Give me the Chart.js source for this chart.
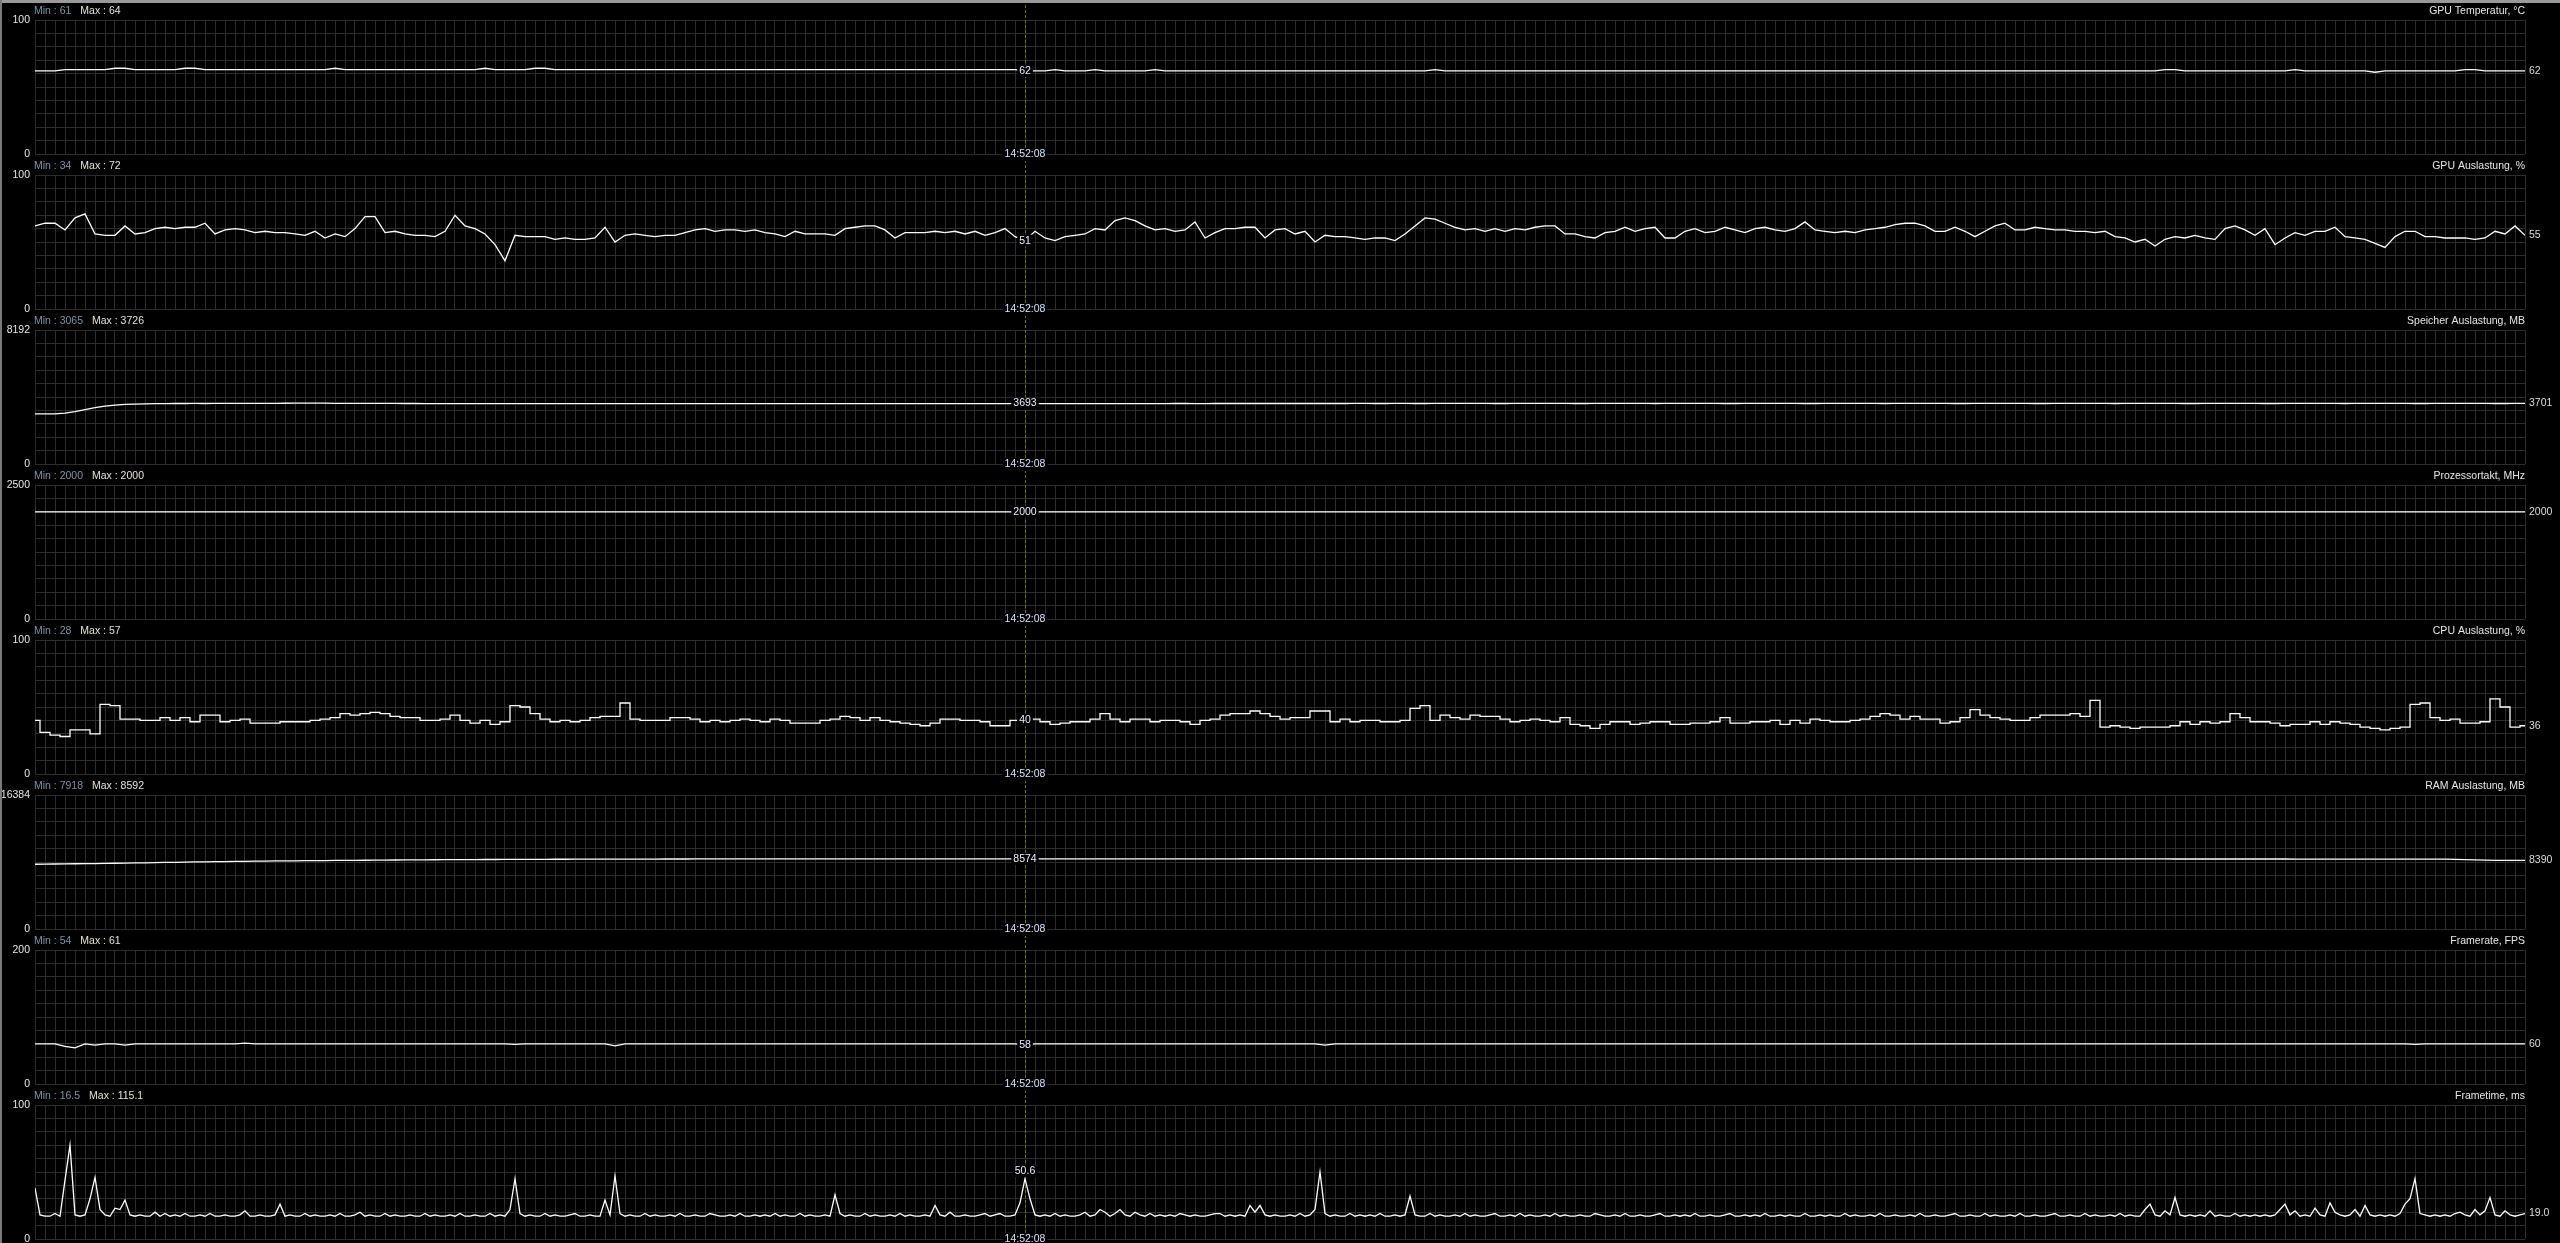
<!DOCTYPE html>
<html><head><meta charset="utf-8">
<script src="https://cdn.jsdelivr.net/npm/chart.js@4.4.1/dist/chart.umd.min.js"></script>
<style>
html,body{margin:0;padding:0;background:#000;width:2560px;height:1243px;overflow:hidden;}
#wrap{position:relative;width:2560px;height:1243px;background:#000;overflow:hidden;}
.pc{position:absolute;left:0;}
#bt{position:absolute;left:0;top:0;width:2560px;height:3px;background:#9a9a9a;z-index:20;}
#bl{position:absolute;left:0;top:0;width:2px;height:1243px;background:#7a7a7a;z-index:20;}
</style></head><body>
<div id="wrap"><div id="bt"></div><div id="bl"></div></div>
<script>
// ---------------- data ----------------
const panelTitles = ["GPU Temperatur, °C","GPU Auslastung, %","Speicher Auslastung, MB","Prozessortakt, MHz","CPU Auslastung, %","RAM Auslastung, MB","Framerate, FPS","Frametime, ms"];
const axisMax = [100,100,8192,2500,100,16384,200,100];
const minLabels = ["61","34","3065","2000","28","7918","54","16.5"];
const maxLabels = ["64","72","3726","2000","57","8592","61","115.1"];
const cursorLabels = ["62","51","3693","2000","40","8574","58","50.6"];
const lastLabels = ["62","55","3701","2000","36","8390","60","19.0"];
const cursorTime = "14:52:08";
const gridColumns = 249;     // grid cells across the plot
const cursorColumn = 99;     // cursor position, in grid cells

const gpuTemp = [
62,62,62,63,63,63,63,63,64,64,63,63,63,63,63,64,64,63,63,63,63,63,63,63,63,
63,63,63,63,63,64,63,63,63,63,63,63,63,63,63,63,63,63,63,63,64,63,63,63,63,
64,64,63,63,63,63,63,63,63,63,63,63,63,63,63,63,63,63,63,63,63,63,63,63,63,
63,63,63,63,63,63,63,63,63,63,63,63,63,63,63,63,63,63,63,63,63,63,63,63,62,
62,62,63,62,62,62,63,62,62,62,62,62,63,62,62,62,62,62,62,62,62,62,62,62,62,
62,62,62,62,62,62,62,62,62,62,62,62,62,62,62,63,62,62,62,62,62,62,62,62,62,
62,62,62,62,62,62,62,62,62,62,62,62,62,62,62,62,62,62,62,62,62,62,62,62,62,
62,62,62,62,62,62,62,62,62,62,62,62,62,62,62,62,62,62,62,62,62,62,62,62,62,
62,62,62,62,62,62,62,62,62,62,62,62,62,63,63,62,62,62,62,62,62,62,62,62,62,
62,63,62,62,62,62,62,62,62,61,62,62,62,62,62,62,62,62,63,63,62,62,62,62,62];

const gpuLoad = [
62,64,64,59,68,71,56,55,55,62,56,57,60,61,60,61,61,64,56,59,60,59,57,58,57,
57,56,55,58,53,56,54,60,69,69,57,58,56,55,55,54,58,70,62,60,56,48,36,55,54,
54,54,52,53,52,52,53,61,50,55,56,55,54,55,55,57,59,60,58,59,59,58,59,57,56,
54,58,56,56,56,55,60,61,62,62,59,53,57,57,57,58,57,58,56,58,55,57,60,54,51,
58,53,51,54,55,56,60,59,66,68,66,62,59,60,58,59,65,53,57,60,60,61,61,53,59,
60,56,58,50,55,54,54,53,52,53,53,51,56,62,68,67,64,61,59,60,58,60,58,60,59,
61,62,62,56,56,54,53,57,58,61,58,60,61,53,53,58,60,57,58,61,59,57,60,61,59,
58,60,65,59,58,57,58,57,59,60,61,63,64,64,62,58,58,61,58,54,58,62,64,59,59,
61,60,59,59,58,58,57,58,54,53,50,52,47,52,54,53,55,53,52,60,62,59,55,60,48,
53,57,55,58,58,61,54,53,52,49,46,54,58,58,54,54,53,53,53,52,53,58,56,62,55];

const vramUsage = [
3065,3065,3070,3110,3200,3330,3450,3540,3600,3640,3665,3680,3690,3695,3698,3700,3702,3700,3703,3705,3704,3706,3708,3710,3712,
3715,3718,3726,3720,3716,3712,3710,3708,3706,3705,3703,3702,3700,3698,3697,3696,3695,3695,3694,3694,3693,3693,3692,3692,3692,
3692,3693,3693,3694,3694,3693,3693,3692,3692,3693,3694,3694,3693,3693,3692,3692,3693,3693,3694,3694,3693,3693,3692,3693,3693,
3694,3694,3693,3693,3692,3692,3693,3694,3694,3693,3693,3692,3693,3693,3694,3694,3693,3693,3692,3692,3693,3693,3694,3693,3693,
3694,3695,3695,3696,3696,3695,3695,3696,3697,3697,3696,3696,3697,3697,3698,3698,3697,3697,3698,3698,3699,3699,3698,3698,3699,
3699,3700,3700,3699,3699,3700,3700,3701,3701,3700,3700,3701,3701,3700,3700,3701,3701,3702,3702,3701,3701,3700,3700,3701,3701,
3702,3702,3701,3701,3700,3700,3701,3701,3702,3702,3701,3701,3700,3701,3701,3702,3702,3701,3701,3700,3700,3701,3701,3702,3702,
3701,3701,3700,3700,3701,3701,3702,3702,3701,3701,3700,3701,3701,3702,3702,3701,3701,3700,3700,3701,3701,3702,3702,3701,3701,
3700,3700,3701,3701,3702,3702,3701,3701,3700,3701,3701,3702,3702,3701,3701,3700,3700,3701,3701,3702,3702,3701,3701,3700,3700,
3701,3701,3702,3702,3701,3701,3700,3701,3701,3702,3702,3701,3701,3700,3700,3701,3701,3702,3702,3701,3701,3700,3700,3701,3701];

const cpuClock = [
2000,2000,2000,2000,2000,2000,2000,2000,2000,2000,2000,2000,2000,2000,2000,2000,2000,2000,2000,2000,2000,2000,2000,2000,2000,
2000,2000,2000,2000,2000,2000,2000,2000,2000,2000,2000,2000,2000,2000,2000,2000,2000,2000,2000,2000,2000,2000,2000,2000,2000,
2000,2000,2000,2000,2000,2000,2000,2000,2000,2000,2000,2000,2000,2000,2000,2000,2000,2000,2000,2000,2000,2000,2000,2000,2000,
2000,2000,2000,2000,2000,2000,2000,2000,2000,2000,2000,2000,2000,2000,2000,2000,2000,2000,2000,2000,2000,2000,2000,2000,2000,
2000,2000,2000,2000,2000,2000,2000,2000,2000,2000,2000,2000,2000,2000,2000,2000,2000,2000,2000,2000,2000,2000,2000,2000,2000,
2000,2000,2000,2000,2000,2000,2000,2000,2000,2000,2000,2000,2000,2000,2000,2000,2000,2000,2000,2000,2000,2000,2000,2000,2000,
2000,2000,2000,2000,2000,2000,2000,2000,2000,2000,2000,2000,2000,2000,2000,2000,2000,2000,2000,2000,2000,2000,2000,2000,2000,
2000,2000,2000,2000,2000,2000,2000,2000,2000,2000,2000,2000,2000,2000,2000,2000,2000,2000,2000,2000,2000,2000,2000,2000,2000,
2000,2000,2000,2000,2000,2000,2000,2000,2000,2000,2000,2000,2000,2000,2000,2000,2000,2000,2000,2000,2000,2000,2000,2000,2000,
2000,2000,2000,2000,2000,2000,2000,2000,2000,2000,2000,2000,2000,2000,2000,2000,2000,2000,2000,2000,2000,2000,2000,2000,2000];

const cpuLoad = [
40,31,29,28,33,33,30,52,51,41,41,40,40,42,40,42,39,44,44,39,40,41,38,38,38,
39,39,39,40,41,42,45,44,45,46,45,43,42,42,40,40,41,44,40,38,40,37,39,51,50,
45,41,39,40,39,40,42,43,43,53,41,40,40,40,42,42,41,39,40,39,40,41,40,39,41,
40,38,38,38,40,41,43,42,40,42,40,39,38,37,36,38,41,41,40,40,39,36,36,40,40,
41,39,37,38,39,39,41,45,41,39,41,41,39,40,40,39,37,40,41,44,45,45,47,45,43,
41,42,42,47,47,39,41,39,40,40,39,39,40,49,51,40,44,42,41,44,43,43,41,39,40,
41,40,39,42,37,36,34,37,39,39,37,38,39,39,37,37,38,38,39,42,38,38,39,39,40,
37,40,38,41,40,39,39,40,41,43,45,44,41,43,41,41,38,39,42,48,44,42,41,40,40,
42,44,44,44,45,43,55,35,36,35,34,35,35,35,36,39,37,39,38,39,45,42,39,39,38,
36,37,37,39,37,39,38,37,35,34,33,34,35,52,53,42,40,41,38,38,39,56,50,35,36];

const ramUsage = [
7918,7930,7945,7960,7975,7990,8005,8022,8040,8058,8078,8097,8118,8136,8158,8176,8197,8214,8231,8244,8260,8276,8289,8304,8318,
8330,8341,8350,8362,8371,8380,8392,8401,8409,8420,8428,8435,8445,8452,8459,8466,8473,8477,8484,8490,8496,8500,8504,8511,8515,
8519,8522,8528,8531,8534,8538,8540,8545,8547,8549,8552,8554,8555,8558,8560,8561,8563,8563,8565,8566,8566,8568,8568,8569,8570,
8570,8571,8571,8572,8572,8572,8573,8573,8573,8573,8574,8574,8574,8574,8574,8574,8574,8574,8575,8575,8575,8574,8574,8574,8574,
8575,8576,8576,8577,8577,8578,8578,8579,8580,8580,8581,8581,8582,8582,8583,8584,8584,8585,8585,8586,8586,8587,8587,8588,8588,
8588,8589,8589,8589,8590,8590,8590,8590,8591,8591,8591,8591,8591,8592,8592,8592,8592,8592,8592,8592,8591,8591,8591,8591,8590,
8590,8590,8590,8589,8589,8589,8589,8588,8588,8588,8587,8587,8587,8586,8586,8586,8585,8585,8584,8584,8583,8583,8582,8582,8581,
8581,8580,8580,8579,8579,8578,8578,8577,8577,8576,8576,8575,8575,8574,8574,8573,8573,8572,8572,8571,8571,8570,8570,8569,8569,
8568,8568,8567,8567,8566,8566,8565,8565,8564,8564,8563,8563,8562,8562,8561,8561,8560,8560,8559,8559,8558,8558,8557,8557,8556,
8556,8555,8555,8554,8554,8553,8553,8552,8552,8551,8551,8550,8550,8549,8548,8546,8540,8520,8490,8450,8420,8400,8395,8392,8390];

const framerate = [
60,60,60,56,54,60,58,60,60,58,60,60,60,60,60,60,60,60,60,60,60,61,60,60,60,
60,60,60,60,60,60,60,60,60,60,60,60,60,60,60,60,60,60,60,60,60,60,60,59,60,
60,60,60,60,60,60,60,60,57,60,60,60,60,60,60,60,60,60,60,60,60,60,60,60,60,
60,60,60,60,60,60,60,60,60,60,60,60,60,60,60,60,60,60,60,60,60,60,60,60,58,
60,60,60,60,60,60,60,60,60,60,60,60,60,60,60,60,60,60,60,60,60,60,60,60,60,
60,60,60,60,58,60,60,60,60,60,60,60,60,60,60,60,60,60,60,60,60,60,60,60,60,
60,60,60,60,60,60,60,60,60,60,60,60,60,60,60,60,60,60,60,60,60,60,60,60,60,
60,60,60,60,60,60,60,60,60,60,60,60,60,60,60,60,60,60,60,60,60,60,60,60,60,
60,60,60,60,60,60,60,60,60,60,60,60,60,60,60,60,60,60,60,60,60,60,60,60,60,
60,60,60,60,60,60,60,60,60,60,60,60,60,59,60,60,60,60,60,60,60,60,60,60,60];

// frametime is sampled twice as densely (499 samples)
const frametime = [
38,18,17,17,19,17,44,70,18,17,18,30,46,22,18,17,23,22,29,18,17,18,17,17,20,
17,19,17,18,17,19,17,17,18,17,19,17,17,18,17,17,18,21,17,17,18,17,17,18,26,
17,18,17,17,19,17,18,17,17,18,17,19,17,17,18,20,17,18,17,17,19,17,18,17,17,
18,17,17,19,17,18,17,17,18,17,19,17,17,18,17,17,19,17,18,17,22,45,19,17,18,
17,17,19,17,18,17,17,18,19,17,17,18,17,17,29,18,47,19,17,18,17,17,19,17,18,
17,17,18,17,19,17,17,18,17,17,19,18,17,17,18,17,19,17,17,18,17,18,17,19,17,
18,17,17,19,17,18,17,17,18,17,33,19,17,18,17,17,19,17,18,17,17,18,17,19,17,
18,17,17,18,17,25,18,17,20,17,17,18,17,17,18,19,17,18,19,17,17,18,27,45,30,
18,17,18,17,19,17,18,17,17,18,20,17,18,22,20,17,19,22,18,17,20,18,17,19,17,
18,17,18,17,19,18,17,18,17,17,18,19,19,17,18,17,18,17,25,20,25,18,17,18,17,
17,18,17,19,17,18,22,50,19,17,18,17,17,19,17,18,17,18,17,19,17,17,18,17,18,
32,18,17,17,19,17,18,17,17,18,17,19,17,18,17,17,18,19,17,17,18,17,19,17,18,
17,17,18,17,19,17,18,17,17,18,17,17,19,18,17,17,18,17,19,17,17,18,17,17,18,
19,17,17,18,17,18,17,19,17,17,18,17,17,18,19,17,17,18,17,18,17,19,17,17,18,
17,18,17,17,19,17,17,18,17,18,17,17,19,17,18,17,17,18,17,19,17,17,18,17,17,
18,17,19,17,17,18,17,17,18,19,17,17,18,17,17,19,17,18,17,17,18,17,19,17,17,
18,17,17,18,19,17,17,18,17,17,19,17,18,17,17,18,17,19,17,18,17,17,22,26,18,
17,21,18,31,18,17,18,17,18,17,21,17,18,17,17,19,17,18,17,18,17,18,17,18,22,
26,18,21,17,18,17,23,18,17,27,20,18,17,18,22,17,25,18,17,18,17,18,17,19,26,
30,45,19,18,17,18,17,18,17,19,20,18,17,22,18,21,31,18,17,21,18,17,18,19];

const panelSeries = [gpuTemp, gpuLoad, vramUsage, cpuClock, cpuLoad, ramUsage, framerate, frametime];
const panelStepped = [false,false,false,false,'middle',false,false,false];

// ---------------- drawing ----------------
const PANEL_PITCH = 155;
const FONT = '10.5px "Liberation Sans", Arial, sans-serif';

function colToValue(col, n) { return col * (n - 1) / gridColumns; }

const decor = {
  id: 'decor',
  beforeDatasetsDraw(chart, args, opts) {
    const p = opts.index, ctx = chart.ctx, n = panelSeries[p].length;
    const x = Math.round(chart.scales.x.getPixelForValue(colToValue(cursorColumn, n))) + 0.5;
    const y0 = p === 0 ? 3 : 8;
    ctx.save();
    ctx.strokeStyle = '#6e6e1c';
    ctx.lineWidth = 1;
    ctx.setLineDash([3, 2]);
    ctx.lineDashOffset = (p * PANEL_PITCH + y0) % 5;
    ctx.beginPath();
    ctx.moveTo(x, y0);
    ctx.lineTo(x, chart.height);
    ctx.stroke();
    ctx.restore();
  },
  afterDatasetsDraw(chart, args, opts) {
    const p = opts.index, ctx = chart.ctx;
    const series = panelSeries[p], n = series.length;
    const xs = chart.scales.x, ys = chart.scales.y, area = chart.chartArea;
    ctx.save();
    ctx.font = FONT;
    ctx.textBaseline = 'middle';
    ctx.textAlign = 'left';
    const minText = 'Min : ' + minLabels[p];
    ctx.fillStyle = '#7895a3';
    ctx.fillText(minText, 34, 11);
    ctx.fillStyle = '#e4e2d4';
    ctx.fillText('Max : ' + maxLabels[p], 34 + ctx.measureText(minText).width + 9, 11);
    ctx.textAlign = 'right';
    ctx.fillStyle = '#e6e6e6';
    ctx.fillText(panelTitles[p], area.right, 11);
    ctx.fillText(String(axisMax[p]), 30, ys.getPixelForValue(axisMax[p]));
    ctx.fillText('0', 30, ys.getPixelForValue(0));
    ctx.textAlign = 'left';
    ctx.fillStyle = '#dcdcdc';
    ctx.fillText(lastLabels[p], area.right + 4, ys.getPixelForValue(series[n - 1]));
    const cx = xs.getPixelForValue(colToValue(cursorColumn, n));
    const cy = ys.getPixelForValue(parseFloat(cursorLabels[p]));
    ctx.textAlign = 'center';
    let w = ctx.measureText(cursorLabels[p]).width;
    ctx.fillStyle = '#000';
    ctx.fillRect(cx - w / 2 - 2, cy - 6, w + 4, 12);
    ctx.fillStyle = '#e8eeff';
    ctx.fillText(cursorLabels[p], cx, cy);
    const ty = ys.getPixelForValue(0);
    w = ctx.measureText(cursorTime).width;
    ctx.fillStyle = '#000';
    ctx.fillRect(cx - w / 2 - 2, ty - 6, w + 4, 13);
    ctx.fillStyle = '#d6e2ff';
    ctx.fillText(cursorTime, cx, ty);
    ctx.restore();
  }
};

const wrap = document.getElementById('wrap');
panelSeries.forEach((series, p) => {
  const n = series.length;
  const labels = series.map((v, i) => i);
  const canvas = document.createElement('canvas');
  canvas.className = 'pc';
  canvas.width = 2560; canvas.height = 175;
  canvas.style.width = '2560px'; canvas.style.height = '175px';
  canvas.style.top = (p * PANEL_PITCH) + 'px';
  canvas.style.zIndex = String(p + 1);
  wrap.appendChild(canvas);
  const maxV = axisMax[p];
  new Chart(canvas, {
    type: 'line',
    data: {
      labels: labels,
      datasets: [{
        data: series,
        borderColor: '#ffffff',
        borderWidth: 1.3,
        pointRadius: 0,
        tension: 0,
        fill: false,
        stepped: panelStepped[p]
      }]
    },
    options: {
      responsive: false,
      animation: false,
      devicePixelRatio: 1,
      layout: { padding: { left: 35, right: 35, top: 20, bottom: 21 } },
      plugins: { legend: { display: false }, tooltip: { enabled: false }, decor: { index: p } },
      scales: {
        x: {
          type: 'linear', min: 0, max: n - 1,
          grid: { color: '#2c2c2c', lineWidth: 1, drawTicks: false },
          border: { display: false },
          ticks: { display: false },
          afterBuildTicks(s) { const t = []; for (let k = 0; k <= gridColumns; k++) t.push({ value: colToValue(k, n) }); s.ticks = t; },
          afterFit(s) { s.height = 0; }
        },
        y: {
          min: 0, max: maxV,
          grid: { color: '#2c2c2c', lineWidth: 1, drawTicks: false },
          border: { display: false },
          ticks: { display: false },
          afterBuildTicks(s) { const t = []; for (let k = 0; k <= 10; k++) t.push({ value: maxV * k / 10 }); s.ticks = t; },
          afterFit(s) { s.width = 0; }
        }
      }
    },
    plugins: [decor]
  });
});
</script>
</body></html>
